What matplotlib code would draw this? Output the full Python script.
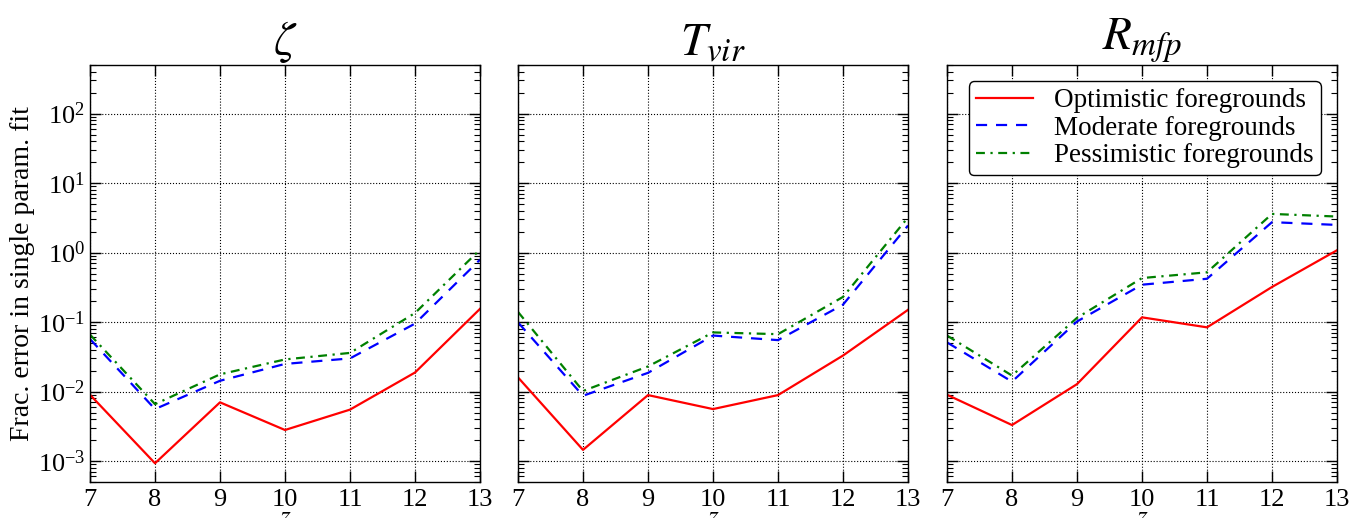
import numpy as np
import matplotlib
matplotlib.use("Agg")
import matplotlib.pyplot as plt
from matplotlib.ticker import LogLocator, NullFormatter

plt.rcParams['font.family'] = ['Liberation Serif', 'DejaVu Serif']
plt.rcParams['mathtext.fontset'] = 'stix'

z = [7, 8, 9, 10, 11, 12, 13]
titles = [r'$\zeta$', r'$T_{vir}$', r'$R_{mfp}$']
labels = ['Optimistic foregrounds', 'Moderate foregrounds', 'Pessimistic foregrounds']

zeta_opt = [0.009, 0.00093, 0.007, 0.0028, 0.0055, 0.0188, 0.155]
zeta_mod = [0.057, 0.0056, 0.0143, 0.025, 0.030, 0.095, 0.79]
zeta_pes = [0.066, 0.0066, 0.0177, 0.029, 0.036, 0.135, 1.1]

tvir_opt = [0.016, 0.00145, 0.0089, 0.0056, 0.0089, 0.033, 0.15]
tvir_mod = [0.099, 0.0087, 0.0186, 0.064, 0.055, 0.178, 2.45]
tvir_pes = [0.14, 0.0102, 0.023, 0.071, 0.067, 0.23, 3.2]

rmfp_opt = [0.009, 0.0033, 0.0128, 0.117, 0.084, 0.32, 1.08]
rmfp_mod = [0.051, 0.0139, 0.102, 0.345, 0.42, 2.74, 2.5]
rmfp_pes = [0.064, 0.017, 0.115, 0.43, 0.52, 3.6, 3.3]

data = [(zeta_opt, zeta_mod, zeta_pes),
        (tvir_opt, tvir_mod, tvir_pes),
        (rmfp_opt, rmfp_mod, rmfp_pes)]

fig = plt.figure(figsize=(13.64, 5.18), dpi=100)
lefts = [90, 518, 947]
W, H = 1364, 518
axes = []
for i, lx in enumerate(lefts):
    ax = fig.add_axes([lx / W, (H - 482) / H, 390 / W, (482 - 65) / H])
    axes.append(ax)
    opt, mod, pes = data[i]
    ax.plot(z, opt, color='red', lw=1.6, ls='-', label=labels[0])
    ax.plot(z, mod, color='blue', lw=1.6, ls=(0, (5, 4)), label=labels[1])
    ax.plot(z, pes, color='green', lw=1.6, ls=(0, (4, 2.5, 1, 2.5)), label=labels[2])
    ax.set_yscale('log')
    ax.set_ylim(5e-4, 5e2)
    ax.set_xlim(7, 13)
    ax.set_xticks(z)
    ax.yaxis.set_major_locator(LogLocator(base=10, numticks=20))
    ax.yaxis.set_minor_locator(LogLocator(base=10, subs=np.arange(2, 10), numticks=20))
    ax.yaxis.set_minor_formatter(NullFormatter())
    ax.tick_params(which='both', direction='in', top=True, right=True, labelsize=19)
    ax.tick_params(axis='x', pad=5)
    ax.tick_params(which='major', length=8, width=1)
    ax.tick_params(which='minor', length=4, width=0.8)
    ax.grid(True, which='major', color='black', ls=':', lw=0.8)
    ax.set_title(titles[i], fontsize=34, pad=6)
    ax.set_xlabel(r'$z$', fontsize=20, labelpad=-4)
    if i > 0:
        ax.set_yticklabels([])
    for sp in ax.spines.values():
        sp.set_linewidth(1.0)

axes[0].set_ylabel('Frac. error in single param. fit', fontsize=20, labelpad=2)
leg = axes[2].legend(loc='upper right', fontsize=19.5, fancybox=True, framealpha=1,
                     edgecolor='black', handlelength=2.1, handletextpad=0.8,
                     borderpad=0.25, labelspacing=0.1, borderaxespad=0.6)
leg.get_frame().set_linewidth(1.0)

fig.savefig('out.png', dpi=100)
